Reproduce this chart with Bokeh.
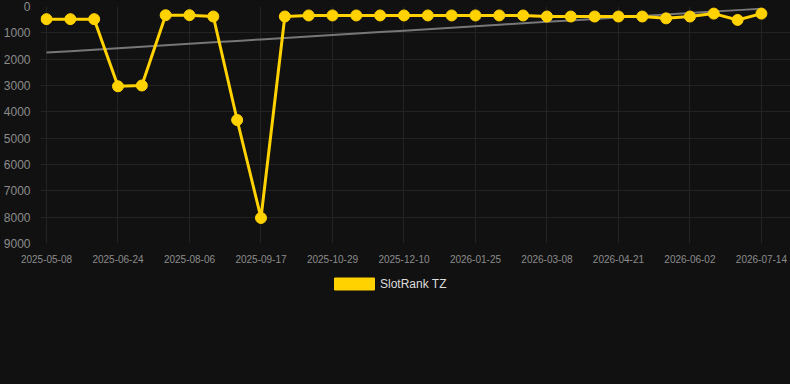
import numpy as np
from bokeh.plotting import figure
from bokeh.layouts import column
from bokeh.models import (ColumnDataSource, Range1d, FixedTicker, Legend, LegendItem)
from bokeh.embed import file_html
from bokeh.resources import INLINE

dates = [
    "2025-05-08", "2025-05-24", "2025-06-09",
    "2025-06-24", "2025-07-08", "2025-07-22",
    "2025-08-06", "2025-08-20", "2025-09-03",
    "2025-09-17", "2025-10-01", "2025-10-15",
    "2025-10-29", "2025-11-12", "2025-11-26",
    "2025-12-10", "2025-12-25", "2026-01-10",
    "2026-01-25", "2026-02-08", "2026-02-22",
    "2026-03-08", "2026-03-23", "2026-04-07",
    "2026-04-21", "2026-05-05", "2026-05-19",
    "2026-06-02", "2026-06-16", "2026-06-30",
    "2026-07-14",
]
ranks = [
    480, 480, 480, 3030, 3000, 330, 330, 380, 4310, 8030,
    380, 340, 340, 340, 340, 340, 340, 340, 340, 340,
    340, 380, 380, 380, 380, 380, 450, 380, 270, 510,
    270,
]
y_ticks = [0, 1000, 2000, 3000, 4000, 5000, 6000, 7000, 8000, 9000]
series_name = "SlotRank TZ"

BG = "#111111"
GOLD = "#FFD200"
idx = np.arange(len(dates))

# linear trend of the series
coef = np.polyfit(idx, np.array(ranks, dtype=float), 1)
trend = np.polyval(coef, idx)

src = ColumnDataSource(dict(x=idx, y=ranks, t=trend))

p = figure(width=790, height=270, output_backend="svg", toolbar_location=None,
           x_range=Range1d(-0.252, 31.22), y_range=Range1d(9000, 0),
           min_border_left=40, min_border_right=0, min_border_top=6,
           min_border_bottom=27)
p.background_fill_color = BG
p.border_fill_color = BG
p.outline_line_color = None

p.line("x", "t", source=src, line_color="#777777", line_width=2)
p.line("x", "y", source=src, line_color=GOLD, line_width=3)
p.scatter("x", "y", source=src, size=11, fill_color=GOLD, line_color=GOLD)

label_idx = list(range(0, len(dates), 3))
p.xaxis.ticker = FixedTicker(ticks=label_idx)
p.xaxis.major_label_overrides = {i: dates[i] for i in label_idx}
p.yaxis.ticker = FixedTicker(ticks=y_ticks)

for ax in (p.xaxis[0], p.yaxis[0]):
    ax.axis_line_color = None
    ax.major_tick_line_color = None
    ax.minor_tick_line_color = None
    ax.major_label_text_font = "Liberation Sans"
    ax.major_label_text_color = "#8c8c8c"
p.xaxis.major_label_text_font_size = "10px"
p.yaxis.major_label_text_font_size = "12px"
p.xaxis.major_label_standoff = 5
p.yaxis.major_label_standoff = 4

p.xgrid.ticker = FixedTicker(ticks=label_idx)
p.xgrid.grid_line_color = "#232323"
p.ygrid.grid_line_color = "#232323"

# legend strip below the chart
p2 = figure(width=790, height=114, output_backend="svg", toolbar_location=None,
            x_range=Range1d(0, 790), y_range=Range1d(0, 114),
            x_axis_location=None, y_axis_location=None,
            min_border=0)
p2.background_fill_color = BG
p2.border_fill_color = BG
p2.outline_line_color = None
p2.xgrid.visible = False
p2.ygrid.visible = False
# swatch source lies outside the visible strip; only its legend entry shows
box = p2.quad(left=[2000], right=[2001], top=[2001], bottom=[2000],
              fill_color=GOLD, line_color=GOLD)

legend = Legend(items=[LegendItem(label=series_name, renderers=[box], index=0)],
                orientation="horizontal", location=(289, 93),
                background_fill_alpha=0, border_line_color=None,
                glyph_width=50, glyph_height=15, label_text_font="Liberation Sans",
                label_text_font_size="12px", label_text_color="#dddddd",
                margin=0, padding=6, label_standoff=1)
p2.add_layout(legend, "center")

layout = column(p, p2, spacing=0)
layout.styles = {"background-color": BG}

open("out.html", "w").write(file_html(layout, INLINE))
